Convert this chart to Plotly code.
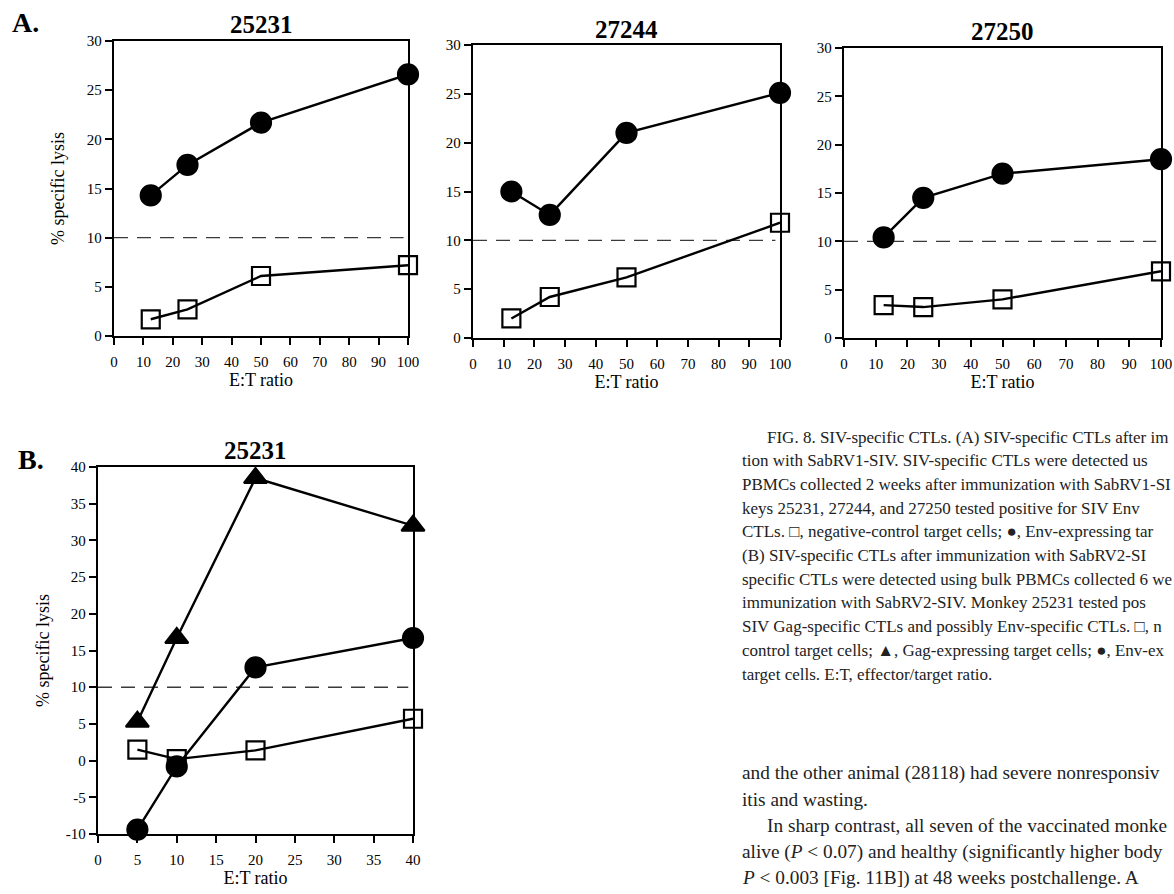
import plotly.graph_objects as go

W, H = 1174, 894

# ---------------- data ----------------
et_A = [12.5, 25, 50, 100]
a1_env = [14.3, 17.4, 21.7, 26.6]
a1_neg = [1.7, 2.7, 6.1, 7.2]
a2_env = [15.0, 12.6, 21.0, 25.1]
a2_neg = [2.0, 4.2, 6.2, 11.8]
a3_env = [10.4, 14.5, 17.0, 18.5]
a3_neg = [3.4, 3.2, 4.0, 6.9]

et_B = [5, 10, 20, 40]
b_gag = [5.3, 16.7, 38.5, 32.0]
b_env = [-9.4, -0.8, 12.7, 16.7]
b_neg = [1.5, 0.2, 1.4, 5.7]

threshold = 10

titles = ["25231", "27244", "27250", "25231"]

ticks_xA = [0, 10, 20, 30, 40, 50, 60, 70, 80, 90, 100]
ticks_yA = [0, 5, 10, 15, 20, 25, 30]
ticks_xB = [0, 5, 10, 15, 20, 25, 30, 35, 40]
ticks_yB = [-10, -5, 0, 5, 10, 15, 20, 25, 30, 35, 40]

caption_lines = [
    "FIG. 8. SIV-specific CTLs. (A) SIV-specific CTLs after im",
    "tion with SabRV1-SIV. SIV-specific CTLs were detected us",
    "PBMCs collected 2 weeks after immunization with SabRV1-SI",
    "keys 25231, 27244, and 27250 tested positive for SIV Env",
    "CTLs. \u25a1, negative-control target cells; \u25cf, Env-expressing tar",
    "(B) SIV-specific CTLs after immunization with SabRV2-SI",
    "specific CTLs were detected using bulk PBMCs collected 6 we",
    "immunization with SabRV2-SIV. Monkey 25231 tested pos",
    "SIV Gag-specific CTLs and possibly Env-specific CTLs. \u25a1, n",
    "control target cells; \u25b2, Gag-expressing target cells; \u25cf, Env-ex",
    "target cells. E:T, effector/target ratio.",
]
body_lines = [
    "and the other animal (28118) had severe nonresponsiv",
    "itis and wasting.",
    "In sharp contrast, all seven of the vaccinated monke",
    "alive (<i>P</i> < 0.07) and healthy (significantly higher body",
    "<i>P</i> < 0.003 [Fig. 11B]) at 48 weeks postchallenge. A",
]

FONT = "Liberation Serif"


def dom_x(l, r):
    return [l / W, r / W]


def dom_y(t, b):
    return [1 - b / H, 1 - t / H]


panels = [
    ((114, 408), (41, 336), [0, 100], [0, 30], ticks_xA, ticks_yA, 17),
    ((473, 780), (45, 338), [0, 100], [0, 30], ticks_xA, ticks_yA, 0),
    ((844, 1161), (48, 338), [0, 100], [0, 30], ticks_xA, ticks_yA, 0),
    ((98, 413), (467, 834), [0, 40], [-10, 40], ticks_xB, ticks_yB, 11),
]

fig = go.Figure()


def add_series(x, y, sym, idx, size):
    xa = "x" if idx == 1 else f"x{idx}"
    ya = "y" if idx == 1 else f"y{idx}"
    fig.add_trace(go.Scatter(
        x=x, y=y, mode="lines+markers", xaxis=xa, yaxis=ya,
        line=dict(color="black", width=2.4),
        marker=dict(symbol=sym, size=size, color="black",
                    line=dict(color="black", width=2.2)),
        cliponaxis=False, showlegend=False, hoverinfo="x+y",
    ))


add_series(et_A, a1_neg, "square-open", 1, 18)
add_series(et_A, a1_env, "circle", 1, 20)
add_series(et_A, a2_neg, "square-open", 2, 18)
add_series(et_A, a2_env, "circle", 2, 20)
add_series(et_A, a3_neg, "square-open", 3, 18)
add_series(et_A, a3_env, "circle", 3, 20)
add_series(et_B, b_neg, "square-open", 4, 18)
add_series(et_B, b_gag, "triangle-up", 4, 20)
add_series(et_B, b_env, "circle", 4, 20)

layout = dict(
    width=W, height=H, margin=dict(l=0, r=0, t=0, b=0, autoexpand=False),
    paper_bgcolor="white", plot_bgcolor="white",
    font=dict(family=FONT, color="black", size=15),
    showlegend=False,
)

annotations = []
shapes = []

for i, ((l, r), (t, b), xr, yr, tx, ty, ystand) in enumerate(panels):
    idx = i + 1
    xk = "xaxis" if idx == 1 else f"xaxis{idx}"
    yk = "yaxis" if idx == 1 else f"yaxis{idx}"
    xa = "x" if idx == 1 else f"x{idx}"
    ya = "y" if idx == 1 else f"y{idx}"
    layout[xk] = dict(
        domain=dom_x(l, r), range=xr, anchor=ya, automargin=False,
        tickmode="array", tickvals=tx, ticktext=[str(v) for v in tx],
        showline=True, mirror=True, linewidth=2.4, linecolor="black",
        ticks="outside", ticklen=7, tickwidth=1.5, tickcolor="black",
        showgrid=False, zeroline=False,
        tickfont=dict(size=15, family=FONT),
        ticklabelstandoff=4,
        title=dict(text="E:T ratio", font=dict(size=18, family=FONT), standoff=4),
    )
    layout[yk] = dict(
        domain=dom_y(t, b), range=yr, anchor=xa, automargin=False,
        tickmode="array", tickvals=ty, ticktext=[str(v) for v in ty],
        showline=True, mirror=True, linewidth=2.4, linecolor="black",
        ticks="outside", ticklen=7, tickwidth=1.5, tickcolor="black",
        showgrid=False, zeroline=False,
        tickfont=dict(size=15, family=FONT),
    )
    if idx in (1, 4):
        layout[yk]["title"] = dict(text="% specific lysis",
                                   font=dict(size=18, family=FONT), standoff=ystand)
    shapes.append(dict(
        type="line", xref=xa, yref=ya, x0=xr[0], x1=xr[1] * 0.985,
        y0=threshold, y1=threshold,
        line=dict(color="#3a3a3a", width=1.4, dash="14px,9px"), layer="below",
    ))
    annotations.append(dict(
        text=f"<b>{titles[i]}</b>", xref="paper", yref="paper",
        x=(l + r) / 2 / W, y=1 - (t - 16) / H,
        xanchor="center", yanchor="middle", showarrow=False,
        font=dict(size=25, family=FONT),
    ))

annotations.append(dict(text="<b>A.</b>", xref="paper", yref="paper",
                        x=10 / W, y=1 - 22 / H, xanchor="left", yanchor="middle",
                        showarrow=False, font=dict(size=28, family=FONT)))
annotations.append(dict(text="<b>B.</b>", xref="paper", yref="paper",
                        x=16 / W, y=1 - 459 / H, xanchor="left", yanchor="middle",
                        showarrow=False, font=dict(size=28, family=FONT)))

cap_y0, cap_dy = 437, 23.7
for k, line in enumerate(caption_lines):
    x0 = 765 if k == 0 else 740
    annotations.append(dict(
        text=line, xref="paper", yref="paper", x=x0 / W, y=1 - (cap_y0 + k * cap_dy) / H,
        xanchor="left", yanchor="middle", showarrow=False,
        font=dict(size=17, family=FONT, color="#222"),
    ))

body_y0, body_dy = 773, 26.3
for k, line in enumerate(body_lines):
    x0 = 765 if k == 2 else 740
    annotations.append(dict(
        text=line, xref="paper", yref="paper", x=x0 / W, y=1 - (body_y0 + k * body_dy) / H,
        xanchor="left", yanchor="middle", showarrow=False,
        font=dict(size=19.3, family=FONT, color="#222"),
    ))

layout["annotations"] = annotations
layout["shapes"] = shapes
fig.update_layout(**layout)

fig.write_html("out.html")
